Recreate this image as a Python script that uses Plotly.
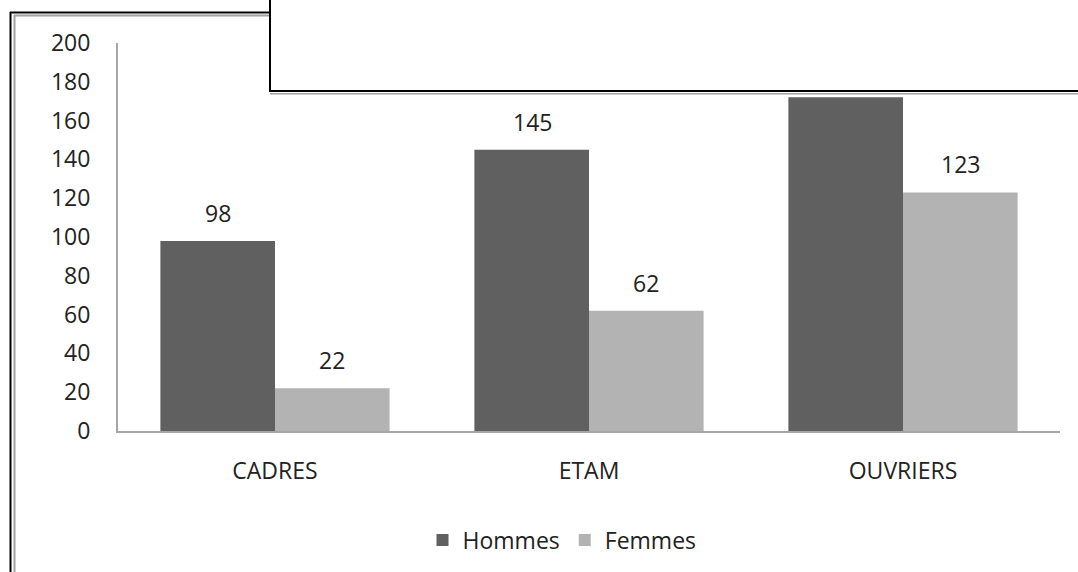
import plotly.graph_objects as go

categories = ["CADRES", "ETAM", "OUVRIERS"]
hommes = [98, 145, 172]
femmes = [22, 62, 123]
series_names = ["Hommes", "Femmes"]
colors = ["#606060", "#b3b3b3"]
y_ticks = list(range(0, 201, 20))

W, H = 1078, 572
L, R, T, B = 118, 18, 43, 140
pw, ph = W - L - R, H - T - B

def px(x):
    return (x - L) / pw

def py(y):
    return (H - B - y) / ph

FONT = "Open Sans"
FS = 23
TXT = "#222222"
fig = go.Figure()
for name, vals, col in zip(series_names, [hommes, femmes], colors):
    fig.add_trace(go.Bar(
        x=categories, y=vals, name=name,
        marker=dict(color=col, line=dict(width=0)),
    ))

fig.update_layout(
    width=W, height=H, autosize=False,
    margin=dict(l=L, r=R, t=T, b=B),
    paper_bgcolor="white", plot_bgcolor="white",
    barmode="group", bargap=0.27, bargroupgap=0,
    font=dict(family=FONT, size=FS, color=TXT),
    showlegend=True,
    legend=dict(orientation="h", x=px(562), xanchor="center", y=py(540), yanchor="middle",
                font=dict(size=FS, color=TXT), itemwidth=30, traceorder="normal"),
    xaxis=dict(showline=True, linecolor="#a6a6a6", linewidth=2, ticks="",
               showgrid=False, ticklabelstandoff=18, tickfont=dict(size=FS)),
    yaxis=dict(range=[0, 200], tickvals=y_ticks, showline=True, linecolor="#a6a6a6",
               linewidth=2, ticks="", showgrid=False, zeroline=False,
               ticklabelstandoff=21, tickfont=dict(size=FS)),
)

# value labels
annotations = []
offsets = [-57, 57]
for vals, off in zip([hommes, femmes], offsets):
    for c, v in zip(categories, vals):
        annotations.append(dict(x=c, y=v, xref="x", yref="y", text=str(v), showarrow=False,
                                xshift=off, yshift=10, yanchor="bottom",
                                font=dict(family=FONT, size=FS, color=TXT)))

# overlay box at top right (covers anything behind it)
annotations.append(dict(xref="paper", yref="paper", x=px(269), y=py(92),
                        xanchor="left", yanchor="bottom", text=" ", showarrow=False,
                        width=900, height=140, bgcolor="white",
                        bordercolor="black", borderwidth=2, borderpad=0))
fig.update_layout(annotations=annotations)

shapes = [
    # outer frame: black line then gray line
    dict(type="line", xref="paper", yref="paper", x0=px(10.5), x1=px(10.5), y0=py(12), y1=py(600),
         line=dict(color="black", width=2)),
    dict(type="line", xref="paper", yref="paper", x0=px(10), x1=px(280), y0=py(12.5), y1=py(12.5),
         line=dict(color="black", width=2)),
    dict(type="line", xref="paper", yref="paper", x0=px(14.5), x1=px(14.5), y0=py(15), y1=py(600),
         line=dict(color="#a0a0a0", width=2)),
    dict(type="line", xref="paper", yref="paper", x0=px(14), x1=px(280), y0=py(15.5), y1=py(15.5),
         line=dict(color="#a0a0a0", width=2)),
    # gray shadow under overlay box
    dict(type="line", xref="paper", yref="paper", x0=px(270), x1=px(1100), y0=py(94), y1=py(94),
         line=dict(color="#a0a0a0", width=1.5)),
]
fig.update_layout(shapes=shapes)

fig.write_html("out.html")
